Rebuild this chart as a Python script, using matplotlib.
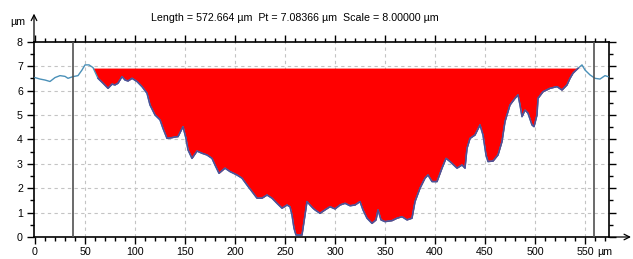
import numpy as np
import matplotlib
matplotlib.use("Agg")
import matplotlib.pyplot as plt
from matplotlib.ticker import MultipleLocator, FixedLocator

plt.rcParams['font.family'] = ['Liberation Sans', 'DejaVu Sans']

# Profile data (µm)
pos = [0, 5, 10, 15, 20, 25, 30, 33, 38, 43, 47, 50, 54, 58, 63, 68, 73, 77, 80, 83,
       87, 90, 93, 97, 102, 107, 112, 115, 120, 125, 128, 132, 137, 142, 143, 148, 151, 153, 157, 162,
       167, 172, 177, 180, 184, 190, 195, 202, 207, 212, 217, 222, 227, 232, 237, 242, 247, 252, 255, 257,
       259, 261, 267, 269, 272, 275, 278, 280, 285, 290, 295, 300, 305, 310, 315, 320, 325, 328, 332, 337,
       341, 343, 346, 350, 357, 362, 367, 372, 377, 380, 385, 390, 393, 397, 402, 407, 411, 415, 422, 427,
       430, 432, 435, 440, 445, 448, 451, 453, 458, 463, 467, 470, 475, 480, 483, 485, 487, 490, 493, 497,
       499, 502, 503, 508, 515, 522, 527, 532, 535, 538, 543, 547, 550, 555, 560, 565, 570, 573]
height = [6.53, 6.47, 6.43, 6.37, 6.53, 6.61, 6.58, 6.50, 6.57, 6.61, 6.84, 7.05, 7.05, 6.94, 6.50, 6.30, 6.09, 6.26, 6.23, 6.30,
          6.57, 6.43, 6.39, 6.50, 6.37, 6.16, 5.89, 5.41, 5.00, 4.80, 4.45, 4.04, 4.07, 4.11, 4.11, 4.52, 4.04, 3.57, 3.22, 3.52,
          3.43, 3.36, 3.22, 2.95, 2.61, 2.82, 2.68, 2.54, 2.41, 2.13, 1.86, 1.59, 1.59, 1.72, 1.59, 1.38, 1.18, 1.31, 1.24, 0.90,
          0.36, 0.08, 0.08, 0.63, 1.45, 1.31, 1.18, 1.11, 0.97, 1.11, 1.24, 1.15, 1.31, 1.38, 1.28, 1.31, 1.45, 1.11, 0.77, 0.56,
          0.70, 1.11, 0.70, 0.63, 0.67, 0.77, 0.83, 0.70, 0.77, 1.45, 2.00, 2.41, 2.54, 2.27, 2.27, 2.82, 3.22, 3.09, 2.82, 2.95,
          2.82, 3.63, 4.04, 4.18, 4.59, 4.18, 3.36, 3.09, 3.11, 3.36, 3.91, 4.73, 5.41, 5.68, 5.82, 5.41, 4.93, 5.20, 5.07, 4.59,
          4.52, 5.00, 5.68, 5.95, 6.09, 6.16, 6.02, 6.23, 6.50, 6.71, 6.91, 7.05, 6.84, 6.64, 6.50, 6.47, 6.61, 6.57]

fill_level = 6.92
fill_start, fill_end = 60, 545
cursors = [38, 559]
title = "Length = 572.664 µm  Pt = 7.08366 µm  Scale = 8.00000 µm"
xticks = [0, 50, 100, 150, 200, 250, 300, 350, 400, 450, 500, 550]
xticklabels = ['0', '50', '100', '150', '200', '250', '300', '350', '400', '450', '500', '550']
yticks = [0, 1, 2, 3, 4, 5, 6, 7, 8]

x = np.array(pos, dtype=float)
y = np.array(height, dtype=float)

fig = plt.figure(figsize=(6.33, 2.59), dpi=100)
ax = fig.add_axes([34/633, 1 - 237/259, (609 - 34)/633, (237 - 41.7)/259])

ax.set_xlim(-1, 574)
ax.set_ylim(0, 8)

# grid
for gx in xticks[1:]:
    ax.axvline(gx, color='#c4c4c4', lw=0.8, ls=(0, (3, 3)), zorder=0)
for gy in yticks[1:-1]:
    ax.axhline(gy, color='#c4c4c4', lw=0.8, ls=(0, (3, 3)), zorder=0)

# fill
mask = (x >= fill_start) & (x <= fill_end)
ax.fill_between(x, np.minimum(y, fill_level), fill_level, where=mask,
                color='#ff0000', lw=0, zorder=2, interpolate=True)
# profile line
ax.plot(x, y, color='#4a90b8', lw=1.0, zorder=3)
xm = x[mask]
ym = y[mask]
ax.plot(xm, ym, color='#4f4f96', lw=1.1, zorder=4)

# cursor lines
for c in cursors:
    ax.axvline(c, color='#505050', lw=1.2, zorder=5)

fs = 7.7
# ticks
ax.xaxis.set_major_locator(FixedLocator(xticks))
ax.set_xticklabels(xticklabels)
ax.xaxis.set_minor_locator(MultipleLocator(10))
ax.yaxis.set_major_locator(FixedLocator(yticks))
ax.yaxis.set_minor_locator(MultipleLocator(0.5))
ax.tick_params(axis='both', which='major', direction='out', length=5, width=1,
               labelsize=fs, top=True, right=True, pad=2)
ax.tick_params(axis='both', which='minor', direction='out', length=3, width=1,
               top=True, right=True)
ax.tick_params(axis='y', which='major', pad=3)
ax.tick_params(axis='x', which='major', pad=2.5)
ax.tick_params(axis='y', which='both', labelright=False)
ax.tick_params(axis='x', which='both', labeltop=False)

for s in ax.spines.values():
    s.set_linewidth(1.2)
    s.set_color('black')

# axis arrows
ax.annotate('', xy=(596, 0), xytext=(574, 0), xycoords='data',
            arrowprops=dict(arrowstyle='->', lw=0.9, color='black',
                            shrinkA=0, shrinkB=0), annotation_clip=False)
ax.annotate('', xy=(-1, 9.15), xytext=(-1, 8), xycoords='data',
            arrowprops=dict(arrowstyle='->', lw=0.9, color='black',
                            shrinkA=0, shrinkB=0), annotation_clip=False)

ax.text(562, -0.62, 'µm', ha='left', va='center', fontsize=fs, clip_on=False)
fig.text(10/633, 1 - 22/259, 'µm', ha='left', va='center', fontsize=fs)
fig.text(295/633, 1 - 18/259, title, ha='center', va='center', fontsize=fs)

fig.savefig('out.png', dpi=100)
